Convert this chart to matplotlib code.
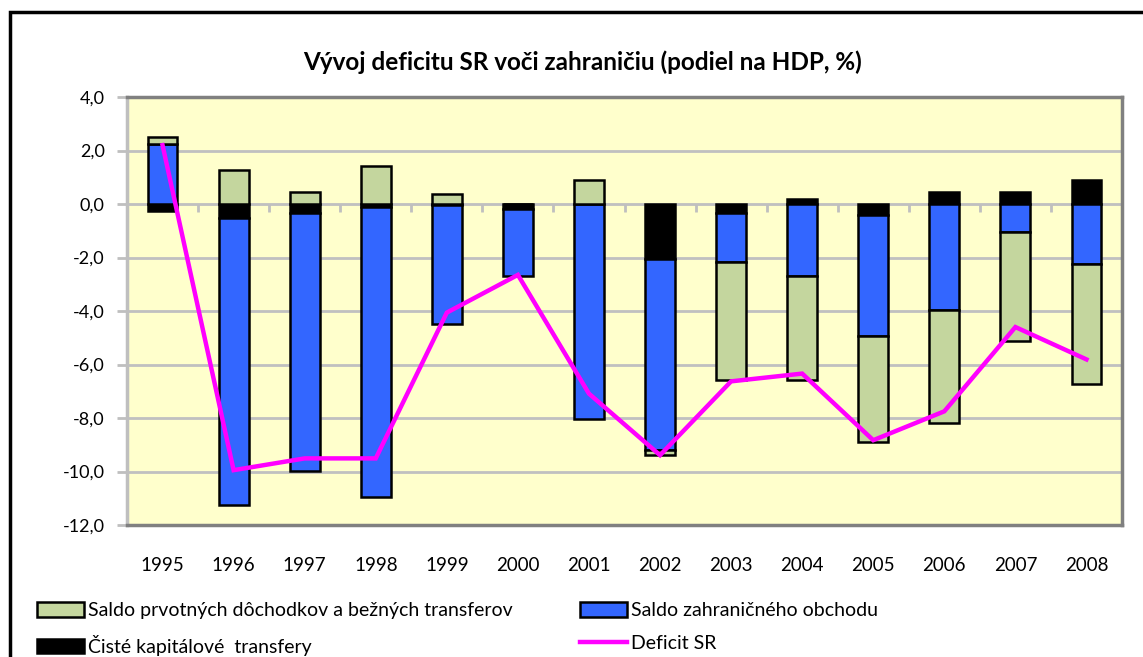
import matplotlib
matplotlib.use('Agg')
import matplotlib.pyplot as plt
import matplotlib.patches as mpatches
import matplotlib.lines as mlines
from matplotlib.ticker import FuncFormatter, NullFormatter
import numpy as np

plt.rcParams['font.family'] = ['Lato', 'DejaVu Sans']

years = ['1995', '1996', '1997', '1998', '1999', '2000', '2001',
         '2002', '2003', '2004', '2005', '2006', '2007', '2008']
# Saldo prvotnych dochodkov a beznych transferov
prim = [0.25, 1.27, 0.44, 1.41, 0.36, 0.0, 0.91, -0.2, -4.4, -3.89, -3.95, -4.21, -4.11, -4.49]
# Saldo zahranicneho obchodu
trade = [2.24, -10.73, -9.63, -10.84, -4.43, -2.5, -8.02, -7.15, -1.85, -2.7, -4.53, -3.97, -1.03, -2.24]
# Ciste kapitalove transfery
kap = [-0.25, -0.53, -0.34, -0.1, -0.05, -0.2, 0.0, -2.05, -0.33, 0.19, -0.41, 0.44, 0.44, 0.91]
# Deficit SR
deficit = [2.2, -9.95, -9.51, -9.51, -4.06, -2.65, -7.09, -9.39, -6.63, -6.34, -8.83, -7.75, -4.6, -5.81]

GREEN = '#C4D69E'
BLUE = '#3366FF'
BLACK = '#000000'
MAGENTA = '#FF00FF'

fig = plt.figure(figsize=(11.43, 6.57), dpi=100)
ax = fig.add_axes([127 / 1143, 1 - 525 / 657, (1122 - 127) / 1143, (525 - 97) / 657])
ax.set_facecolor('#FFFFCC')

x = np.arange(len(years))
pos_base = np.zeros(len(years))
neg_base = np.zeros(len(years))
# excel stacks series in order: black, blue, green (positives and negatives separately)
for vals, col in [(kap, BLACK), (trade, BLUE), (prim, GREEN)]:
    v = np.array(vals)
    bottoms = np.where(v >= 0, pos_base, neg_base)
    ax.bar(x, v, 0.42, bottom=bottoms, color=col, edgecolor='black', linewidth=1.8, zorder=3)
    pos_base = pos_base + np.where(v > 0, v, 0)
    neg_base = neg_base + np.where(v < 0, v, 0)

ax.plot(x, deficit, color=MAGENTA, linewidth=3.2, zorder=5, solid_joinstyle='miter')

ax.set_xlim(-0.5, len(years) - 0.5)
ax.set_ylim(-12, 4)
ax.set_yticks(np.arange(-12, 4.1, 2))
ax.yaxis.set_major_formatter(FuncFormatter(lambda v, p: ('%.1f' % v).replace('.', ',')))
ax.grid(axis='y', color='#C0C0C0', linewidth=2, zorder=0)
ax.set_axisbelow(True)

ax.set_xticks(x)
ax.set_xticklabels(years)
ax.tick_params(axis='x', length=0, pad=23, labelsize=13.5)
ax.tick_params(axis='y', length=7, width=2, color='#BFBFBF', pad=9, labelsize=13)

for s in ['top', 'right', 'bottom']:
    ax.spines[s].set_color('#808080')
    ax.spines[s].set_linewidth(2.5)
ax.spines['left'].set_color('#BFBFBF')
ax.spines['left'].set_linewidth(2.5)

# category axis crossing at zero with tick marks between categories
zero_loc = (0 - (-12)) / (4 - (-12))
sec = ax.secondary_xaxis(zero_loc)
sec.set_xticks(np.arange(0.5, len(years) - 1, 1.0))
sec.xaxis.set_major_formatter(NullFormatter())
sec.xaxis.set_ticks_position('bottom')
sec.tick_params(axis='x', direction='out', length=6, width=2, color='#BFBFBF')
sec.spines['bottom'].set_color('#BFBFBF')
sec.spines['bottom'].set_linewidth(2.5)

fig.text(583 / 1143, 1 - 62 / 657, 'Vývoj deficitu SR voči zahraničiu (podiel na HDP, %)',
         ha='center', va='center', fontsize=17.5, fontweight='bold')

# outer chart frame
fig.patches.append(mpatches.Rectangle((10 / 1143, -0.1), 1.2, 1 - 12 / 657 + 0.1,
                                      transform=fig.transFigure, fill=False,
                                      edgecolor='black', linewidth=2.5))

h_green = mpatches.Patch(facecolor=GREEN, edgecolor='black', linewidth=1.8,
                         label='Saldo prvotných dôchodkov a bežných transferov')
h_black = mpatches.Patch(facecolor=BLACK, edgecolor='black', linewidth=1.8,
                         label='Čisté kapitálové  transfery')
h_blue = mpatches.Patch(facecolor=BLUE, edgecolor='black', linewidth=1.8,
                        label='Saldo zahraničného obchodu')
h_line = mlines.Line2D([], [], color=MAGENTA, linewidth=3.2, label='Deficit SR')

leg_kw = dict(loc='upper left', frameon=False, fontsize=14, borderpad=0, borderaxespad=0,
              handlelength=2.4, handleheight=0.8, handletextpad=0.2, labelspacing=0.8)
fig.legend(handles=[h_green, h_black], bbox_to_anchor=(37 / 1143, 1 - 602 / 657), **leg_kw)
fig.legend(handles=[h_blue, h_line], bbox_to_anchor=(580 / 1143, 1 - 602 / 657), **leg_kw)

fig.savefig('out.png', dpi=100)
